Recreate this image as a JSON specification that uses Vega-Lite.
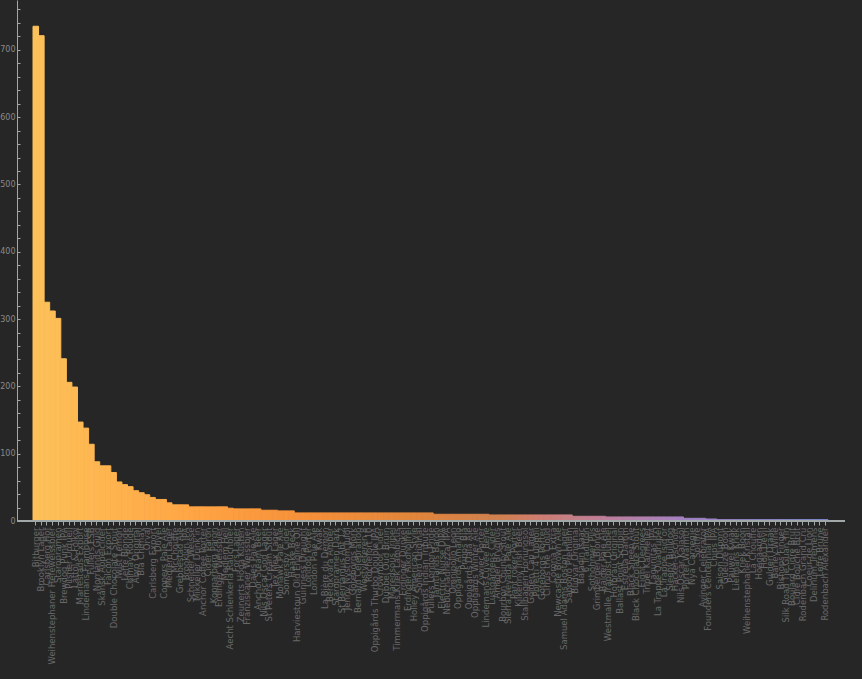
{
  "$schema": "https://vega.github.io/schema/vega-lite/v6.json",
  "width": 828,
  "height": 521,
  "autosize": {"type": "none"},
  "padding": {"left": 17, "right": 17, "top": 0, "bottom": 158},
  "background": "#262626",
  "config": {"view": {"stroke": null}, "font": "DejaVu Sans"},
  "data": {"values": [
    {"beer": "Bitburger", "count": 735},
    {"beer": "Brooklyn Lager", "count": 721},
    {"beer": "Carlsberg Hof", "count": 325},
    {"beer": "Weihenstephaner Hefeweissbier", "count": 312},
    {"beer": "Staropramen", "count": 301},
    {"beer": "Brewdog Punk IPA", "count": 241},
    {"beer": "Pilsner Urquell", "count": 206},
    {"beer": "Lättöl & Folköl", "count": 199},
    {"beer": "Mariestads Export", "count": 147},
    {"beer": "Lindemans Framboise", "count": 138},
    {"beer": "Fullers ESB", "count": 114},
    {"beer": "Norrlands Guld", "count": 88},
    {"beer": "Skånsk Äppelcider", "count": 82},
    {"beer": "Falcon Export", "count": 82},
    {"beer": "Double Chocolate Stout", "count": 72},
    {"beer": "Twist Lemon", "count": 58},
    {"beer": "Leffe Blonde", "count": 54},
    {"beer": "Chimay Rouge", "count": 51},
    {"beer": "Åbro Original", "count": 45},
    {"beer": "Bla Chimay", "count": 42},
    {"beer": "Orval", "count": 39},
    {"beer": "Carlsberg Export", "count": 35},
    {"beer": "Duvel", "count": 32},
    {"beer": "Coopers Pale Ale", "count": 32},
    {"beer": "Medlem Lager", "count": 27},
    {"beer": "McChouffe", "count": 24},
    {"beer": "Grebbestad Ale", "count": 24},
    {"beer": "Brooklyn IPA", "count": 24},
    {"beer": "Schneider Weisse", "count": 21},
    {"beer": "Mikkeller Drink'in", "count": 21},
    {"beer": "Anchor Coffee Porter", "count": 21},
    {"beer": "Cider Päron", "count": 21},
    {"beer": "Kopparberg Päron", "count": 21},
    {"beer": "Erdinger Weissbier", "count": 21},
    {"beer": "Medlem Hell", "count": 21},
    {"beer": "Aecht Schlenkerla Rauchbier", "count": 19},
    {"beer": "Fors Lager", "count": 18},
    {"beer": "Zeunerts Höga Kusten", "count": 18},
    {"beer": "Franziskaner Weissbier", "count": 18},
    {"beer": "Dales Pale Ale", "count": 18},
    {"beer": "Anchor Steam Beer", "count": 18},
    {"beer": "Nils Oscar God Lager", "count": 16},
    {"beer": "St Peters Cream Stout", "count": 16},
    {"beer": "Tex Mex Lager", "count": 16},
    {"beer": "Mohawk Pale Ale", "count": 15},
    {"beer": "Somersby Cider", "count": 15},
    {"beer": "Haake Beck", "count": 15},
    {"beer": "Harviestoun Old Engine Oil", "count": 12},
    {"beer": "Guinness Draught", "count": 12},
    {"beer": "London Porter", "count": 12},
    {"beer": "London Pale Ale", "count": 12},
    {"beer": "Kwak", "count": 12},
    {"beer": "La Bière du Demon", "count": 12},
    {"beer": "Bergkvara Amber", "count": 12},
    {"beer": "Staropramen Dark", "count": 12},
    {"beer": "St Bernardus Abt 12", "count": 12},
    {"beer": "Jenny Nyström Julöl", "count": 12},
    {"beer": "Göteborgs Mörk", "count": 12},
    {"beer": "Bernard Celebration", "count": 12},
    {"beer": "Westvleteren 8", "count": 12},
    {"beer": "Rochefort 10", "count": 12},
    {"beer": "Oppigårds Thurbo Double IPA", "count": 12},
    {"beer": "Crowmoor Cider", "count": 12},
    {"beer": "Dubbel Oud Bruin", "count": 12},
    {"beer": "Maredsous Tripel", "count": 12},
    {"beer": "Timmermans Kriek Lambicus", "count": 12},
    {"beer": "Erdinger Dunkel", "count": 12},
    {"beer": "Erdinger Alkoholfrei", "count": 12},
    {"beer": "Holley American Style", "count": 12},
    {"beer": "Sofiero Original", "count": 12},
    {"beer": "Oppigårds Indian Tribute", "count": 12},
    {"beer": "Fullers London Pride", "count": 12},
    {"beer": "Jämtlands Baron", "count": 10},
    {"beer": "Electric Nurse DIPA", "count": 10},
    {"beer": "Nebuchadnezzar IPA", "count": 10},
    {"beer": "Omnipollo Leon", "count": 10},
    {"beer": "Oppigårds Amarillo", "count": 10},
    {"beer": "Pripps Blå", "count": 10},
    {"beer": "Oppigårds Dala Ale", "count": 10},
    {"beer": "Oppigårds Winter Ale", "count": 10},
    {"beer": "Zywiec Porter", "count": 10},
    {"beer": "Lindemans Cuvee Rene", "count": 10},
    {"beer": "Lustgårdens Cider", "count": 9},
    {"beer": "Amager Bryghus", "count": 9},
    {"beer": "Bourbon County Stout", "count": 9},
    {"beer": "Sierra Nevada Pale Ale", "count": 9},
    {"beer": "Pant roker Porter", "count": 9},
    {"beer": "Kilkenny Irish Beer", "count": 9},
    {"beer": "Stallhagen Honungsöl", "count": 9},
    {"beer": "Golden Cap Lager", "count": 9},
    {"beer": "Poretti 4 Luppoli", "count": 9},
    {"beer": "Göteborgs Porter", "count": 9},
    {"beer": "Cirrus the Cloud", "count": 9},
    {"beer": "Corona Extra", "count": 9},
    {"beer": "Newcastle Brown Ale", "count": 9},
    {"beer": "Samuel Adams Boston Lager", "count": 9},
    {"beer": "Sapporo Premium", "count": 9},
    {"beer": "Budvar Original", "count": 7},
    {"beer": "Baladin Isaac", "count": 7},
    {"beer": "6 Tradition", "count": 7},
    {"beer": "Sothöhmer Pils", "count": 7},
    {"beer": "Grimbergen Blonde", "count": 7},
    {"beer": "Balder Pale Ale", "count": 7},
    {"beer": "Westmalle Trappist Dubbel", "count": 6},
    {"beer": "Hofbräu Original", "count": 6},
    {"beer": "Ballast Point Sculpin", "count": 6},
    {"beer": "Estrella Damm", "count": 6},
    {"beer": "Black Sheep Ale", "count": 6},
    {"beer": "Black Chocolate Stout", "count": 6},
    {"beer": "Eight Degrees", "count": 6},
    {"beer": "Tripel Karmeliet", "count": 6},
    {"beer": "Lagunitas IPA", "count": 6},
    {"beer": "La Trappe Quadrupel", "count": 6},
    {"beer": "La Trappe Isid'or", "count": 6},
    {"beer": "Sleepy Bulldog", "count": 6},
    {"beer": "Hacker-Pschorr", "count": 6},
    {"beer": "Nils Oscar Kalasöl", "count": 6},
    {"beer": "Porter Warmth", "count": 4},
    {"beer": "Nya Carnegie", "count": 4},
    {"beer": "Spitfire", "count": 4},
    {"beer": "Ayinger Celebrator", "count": 4},
    {"beer": "Founders Centennial IPA", "count": 3},
    {"beer": "Chips IPA", "count": 3},
    {"beer": "Saison Dupont", "count": 2},
    {"beer": "Gueuze Boon", "count": 2},
    {"beer": "Pauwel Kwak", "count": 2},
    {"beer": "Liefmans Kriek", "count": 2},
    {"beer": "Kriek Boon", "count": 2},
    {"beer": "Weihenstephaner Kristall", "count": 2},
    {"beer": "La Chouffe", "count": 2},
    {"beer": "Hoegaarden", "count": 2},
    {"beer": "Hop Devil", "count": 2},
    {"beer": "Gulden Draak", "count": 2},
    {"beer": "Barley Wine", "count": 2},
    {"beer": "Bishops Finger", "count": 2},
    {"beer": "Silk Road Tie Guan Yin", "count": 2},
    {"beer": "Boulard Cidre Brut", "count": 2},
    {"beer": "Cidre Bouché Brut", "count": 2},
    {"beer": "Rodenbach Grand Cru", "count": 2},
    {"beer": "Coeur de Lion", "count": 2},
    {"beer": "Delirium Tremens", "count": 2},
    {"beer": "Leffe Brune", "count": 2},
    {"beer": "Rodenbach Alexander", "count": 2}
  ]},
  "transform": [{"window": [{"op": "row_number", "as": "rank"}]}],
  "layer": [
    {
      "mark": {"type": "bar", "strokeWidth": 1},
      "encoding": {
        "x": {
          "field": "beer", "type": "nominal", "sort": null,
          "scale": {"paddingInner": 0, "paddingOuter": 0, "range": [16, 811]},
          "axis": {
            "title": null, "labelAngle": -90, "labelFontSize": 8.5, "labelColor": "#686868",
            "labelPadding": 2, "labelOverlap": false, "tickSize": 4, "tickColor": "#a0a8a8",
            "domain": false, "labelLimit": 200
          }
        },
        "y": {
          "field": "count", "type": "quantitative",
          "scale": {"domain": [0, 774], "nice": false, "zero": true},
          "axis": {
            "title": null, "grid": false,
            "values": [0, 20, 40, 60, 80, 100, 120, 140, 160, 180, 200, 220, 240, 260, 280, 300, 320, 340, 360, 380, 400, 420, 440, 460, 480, 500, 520, 540, 560, 580, 600, 620, 640, 660, 680, 700, 720, 740, 760],
            "labelExpr": "datum.value % 100 === 0 ? datum.label : ''",
            "labelOverlap": false, "tickSize": -3, "labelPadding": 5,
            "labelFontSize": 8, "labelColor": "#8a8a8a",
            "tickColor": "#a0a8a8", "domainColor": "#a0a8a8"
          }
        },
        "color": {
          "field": "rank", "type": "quantitative", "legend": null,
          "scale": {
            "domain": [1, 30, 50, 70, 85, 97, 108, 118, 130, 143],
            "range": ["#fdc15a", "#ffa444", "#f5903a", "#e0853b", "#cf8150", "#c48085", "#b580a8", "#a282c4", "#928acf", "#858fd6"]
          }
        },
        "stroke": {
          "field": "rank", "type": "quantitative", "legend": null,
          "scale": {
            "domain": [1, 30, 50, 70, 85, 97, 108, 118, 130, 143],
            "range": ["#fdc15a", "#ffa444", "#f5903a", "#e0853b", "#cf8150", "#c48085", "#b580a8", "#a282c4", "#928acf", "#858fd6"]
          }
        }
      }
    },
    {
      "mark": {"type": "rule", "color": "#a0a8a8", "strokeWidth": 1},
      "encoding": {
        "y": {
          "datum": 0, "type": "quantitative",
          "axis": {
            "title": null, "grid": false,
            "values": [0, 20, 40, 60, 80, 100, 120, 140, 160, 180, 200, 220, 240, 260, 280, 300, 320, 340, 360, 380, 400, 420, 440, 460, 480, 500, 520, 540, 560, 580, 600, 620, 640, 660, 680, 700, 720, 740, 760],
            "labelExpr": "datum.value % 100 === 0 ? datum.label : ''",
            "labelOverlap": false, "tickSize": -3, "labelPadding": 5,
            "labelFontSize": 8, "labelColor": "#8a8a8a",
            "tickColor": "#a0a8a8", "domainColor": "#a0a8a8"
          }
        }
      }
    }
  ]
}
